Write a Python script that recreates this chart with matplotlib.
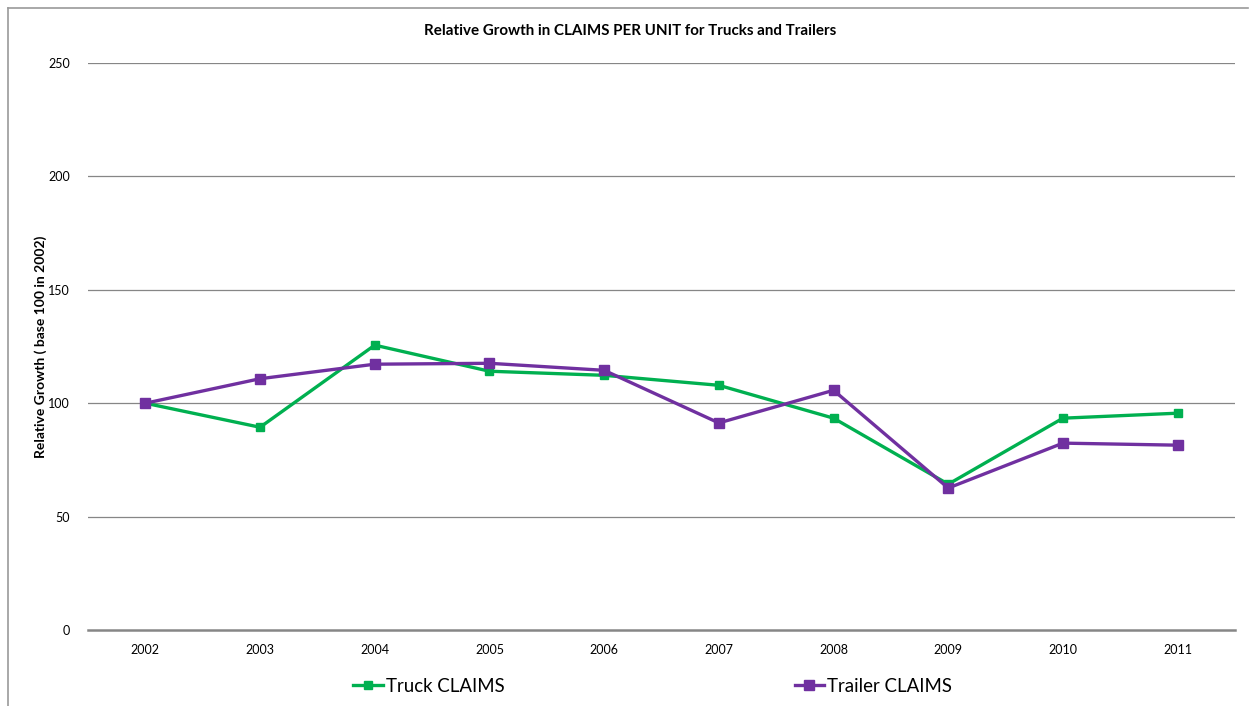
import matplotlib.pyplot as plt
from matplotlib.lines import Line2D

plt.rcParams['font.family'] = ['Lato', 'DejaVu Sans']

years = ['2002', '2003', '2004', '2005', '2006', '2007', '2008', '2009', '2010', '2011']
truck = [100, 89.4, 125.6, 114.1, 112.3, 107.9, 93.4, 64.3, 93.4, 95.6]
trailer = [100, 110.8, 117.2, 117.6, 114.5, 91.3, 105.7, 62.6, 82.4, 81.5]
yticks = [0, 50, 100, 150, 200, 250]

green = '#00B050'
purple = '#7030A0'
grid_c = '#868686'

fig = plt.figure(figsize=(12.5, 7.06), dpi=100)
ax = fig.add_axes([0.0704, 0.1076, 0.9176, 0.8032])

x = list(range(len(years)))
l1, = ax.plot(x, truck, color=green, lw=2.4, marker='s', ms=5.5, label='Truck CLAIMS', zorder=3)
l2, = ax.plot(x, trailer, color=purple, lw=2.4, marker='s', ms=7.5, label='Trailer CLAIMS', zorder=4)

ax.set_xlim(-0.5, len(years) - 0.5)
ax.set_ylim(0, 250)
ax.set_yticks(yticks)
ax.set_xticks(x)
ax.set_xticklabels(years)
ax.tick_params(axis='both', length=0, labelsize=9, colors='black')
ax.tick_params(axis='y', pad=13)
ax.tick_params(axis='x', pad=10)
for t in yticks[1:]:
    ax.axhline(t, color=grid_c, lw=0.9, zorder=1)
for s in ['top', 'right', 'left']:
    ax.spines[s].set_visible(False)
ax.spines['bottom'].set_color(grid_c)
ax.spines['bottom'].set_linewidth(1.8)

ax.set_ylabel('Relative Growth ( base 100 in 2002)', fontsize=10, fontweight='bold')
ax.yaxis.set_label_coords(-0.036, 0.5)
fig.text(0.504, 0.956, 'Relative Growth in CLAIMS PER UNIT for Trucks and Trailers',
         ha='center', va='center', fontsize=10.9, fontweight='bold')

fig.legend(handles=[l1, l2], loc='center', bbox_to_anchor=(0.522, 0.028), ncol=2,
           frameon=False, fontsize=13.4, handlelength=1.6, handletextpad=0.15,
           columnspacing=15.6)

# chart border (top and left visible)
fig.add_artist(Line2D([0.0064, 0.9985], [0.9887, 0.9887], color='#9a9a9a', lw=1.2))
fig.add_artist(Line2D([0.0064, 0.0064], [0.0, 0.9887], color='#9a9a9a', lw=1.2))

fig.savefig('out.png', dpi=100)
